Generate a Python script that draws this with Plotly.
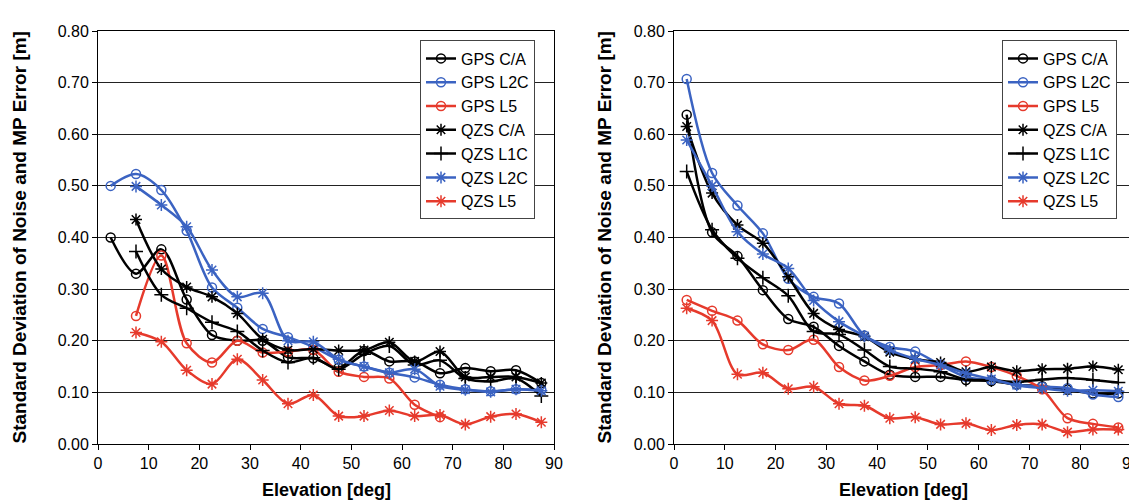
import plotly.graph_objects as go

elev = [2.5, 7.5, 12.5, 17.5, 22.5, 27.5, 32.5, 37.5, 42.5, 47.5,
        52.5, 57.5, 62.5, 67.5, 72.5, 77.5, 82.5, 87.5]

# Left panel
gps_ca_L = [0.40, 0.33, 0.377, 0.28, 0.211, 0.20, 0.20, 0.168, 0.166, 0.148, 0.18, 0.16, 0.16, 0.137, 0.147, 0.141, 0.143, 0.118]
gps_l2c_L = [0.50, 0.523, 0.492, 0.413, 0.303, 0.264, 0.223, 0.207, 0.188, 0.163, 0.15, 0.138, 0.129, 0.115, 0.106, 0.102, 0.106, 0.105]
gps_l5_L = [None, 0.248, 0.365, 0.195, 0.158, 0.20, 0.177, 0.179, 0.182, 0.14, 0.13, 0.127, 0.076, 0.052, None, None, None, None]
qzs_ca_L = [None, 0.435, 0.339, 0.304, 0.285, 0.253, 0.203, 0.182, 0.184, 0.181, 0.182, 0.197, 0.16, 0.179, 0.13, 0.13, 0.13, 0.118]
qzs_l1c_L = [None, 0.373, 0.289, 0.263, 0.236, 0.218, 0.181, 0.158, 0.167, 0.145, 0.174, 0.19, 0.153, 0.162, 0.127, 0.121, 0.127, 0.093]
qzs_l2c_L = [None, 0.499, 0.463, 0.421, 0.337, 0.285, 0.292, 0.20, 0.198, 0.164, 0.15, 0.138, 0.145, 0.112, 0.105, 0.101, 0.106, 0.103]
qzs_l5_L = [None, 0.216, 0.198, 0.143, 0.116, 0.164, 0.124, 0.078, 0.095, 0.054, 0.054, 0.065, 0.054, 0.056, 0.038, 0.053, 0.058, 0.042]

# Right panel
gps_ca_R = [0.638, 0.41, 0.364, 0.298, 0.242, 0.227, 0.19, 0.16, 0.134, 0.13, 0.13, 0.124, 0.122, 0.115, 0.112, 0.105, 0.098, 0.098]
gps_l2c_R = [0.707, 0.525, 0.462, 0.408, 0.32, 0.285, 0.272, 0.21, 0.188, 0.179, 0.153, 0.13, 0.124, 0.115, 0.111, 0.108, 0.096, 0.091]
gps_l5_R = [0.279, 0.258, 0.239, 0.193, 0.182, 0.202, 0.149, 0.123, 0.132, 0.149, 0.153, 0.16, 0.149, 0.132, 0.106, 0.05, 0.039, 0.032]
qzs_ca_R = [0.615, 0.486, 0.424, 0.389, 0.324, 0.253, 0.222, 0.208, 0.178, 0.164, 0.158, 0.14, 0.149, 0.141, 0.145, 0.146, 0.15, 0.144]
qzs_l1c_R = [0.528, 0.415, 0.36, 0.322, 0.287, 0.218, 0.212, 0.182, 0.15, 0.146, 0.14, 0.125, 0.124, 0.12, 0.125, 0.128, 0.124, 0.119]
qzs_l2c_R = [0.589, 0.50, 0.411, 0.368, 0.34, 0.278, 0.237, 0.209, 0.182, 0.165, 0.153, 0.137, 0.126, 0.114, 0.108, 0.103, 0.104, 0.102]
qzs_l5_R = [0.263, 0.239, 0.135, 0.138, 0.107, 0.111, 0.078, 0.074, 0.05, 0.052, 0.038, 0.04, 0.027, 0.037, 0.038, 0.023, 0.028, 0.028]

names = ["GPS C/A", "GPS L2C", "GPS L5", "QZS C/A", "QZS L1C", "QZS L2C", "QZS L5"]
BLACK, BLUE, RED = "#000000", "#3B63C2", "#E63A2C"
colors = [BLACK, BLUE, RED, BLACK, BLACK, BLUE, RED]
symbols = ["circle-open", "circle-open", "circle-open", "asterisk-open",
           "cross-thin-open", "asterisk-open", "asterisk-open"]
left_series = [gps_ca_L, gps_l2c_L, gps_l5_L, qzs_ca_L, qzs_l1c_L, qzs_l2c_L, qzs_l5_L]
right_series = [gps_ca_R, gps_l2c_R, gps_l5_R, qzs_ca_R, qzs_l1c_R, qzs_l2c_R, qzs_l5_R]

fig = go.Figure()
for panel, series, xa, ya, lg in [(0, left_series, "x", "y", "legend"),
                                  (1, right_series, "x2", "y2", "legend2")]:
    for name, vals, c, s in zip(names, series, colors, symbols):
        fig.add_trace(go.Scatter(
            x=elev, y=vals, name=name, mode="lines+markers",
            line=dict(color=c, width=2.5, shape="spline", smoothing=0.9),
            marker=dict(symbol=s, size=9 if "circle" in s else 10,
                        color=c, line=dict(color=c, width=1.5)),
            connectgaps=False, xaxis=xa, yaxis=ya, legend=lg))

# page body has an 8px margin; the figure is sized/positioned to compensate
W, H = 1129, 494
MT, MB = 23, 58
FONT = "Liberation Sans, Arial, sans-serif"
tickfont = dict(family=FONT, size=16, color="black")

xcommon = dict(range=[0, 90], dtick=10, tick0=0, ticks="outside", ticklen=5,
               tickcolor="black", showgrid=False, showline=True, linecolor="black",
               linewidth=1, mirror=True, zeroline=False, tickfont=tickfont,
               ticklabeloverflow="allow")
ycommon = dict(range=[0, 0.8], dtick=0.1, tick0=0, tickformat=".2f", ticks="outside",
               ticklen=5, tickcolor="black", showgrid=True, gridcolor="#222222",
               gridwidth=1, showline=True, linecolor="black", linewidth=1,
               mirror=True, zeroline=False, tickfont=tickfont)

legcommon = dict(bgcolor="white", bordercolor="#444444", borderwidth=1,
                 font=dict(family=FONT, size=16, color="black"),
                 xanchor="left", yanchor="top", xref="paper", yref="paper",
                 tracegroupgap=0, itemwidth=30)

fig.update_layout(
    width=W, height=H, margin=dict(l=0, r=0, t=MT, b=MB, autoexpand=False),
    paper_bgcolor="white", plot_bgcolor="white",
    xaxis=dict(domain=[90 / W, 546 / W], anchor="y", **xcommon),
    yaxis=dict(domain=[0, 1], anchor="x", **ycommon),
    xaxis2=dict(domain=[666 / W, 1123 / W], anchor="y2", **xcommon),
    yaxis2=dict(domain=[0, 1], anchor="x2", **ycommon),
    legend=dict(x=412 / W, y=0.977, **legcommon),
    legend2=dict(x=994 / W, y=0.977, **legcommon),
    showlegend=True,
)

for xc in [318 / W, 895 / W]:
    fig.add_annotation(text="<b>Elevation [deg]</b>", x=xc, y=-0.111, xref="paper",
                       yref="paper", showarrow=False,
                       font=dict(family=FONT, size=18, color="black"),
                       xanchor="center", yanchor="middle")
for xc in [11 / W, 596 / W]:
    fig.add_annotation(text="<b>Standard Deviation of Noise and MP Error [m]</b>",
                       x=xc, y=0.5, xref="paper", yref="paper", showarrow=False,
                       textangle=-90, font=dict(family=FONT, size=19, color="black"),
                       xanchor="center", yanchor="middle")

fig.write_html("out.html")
